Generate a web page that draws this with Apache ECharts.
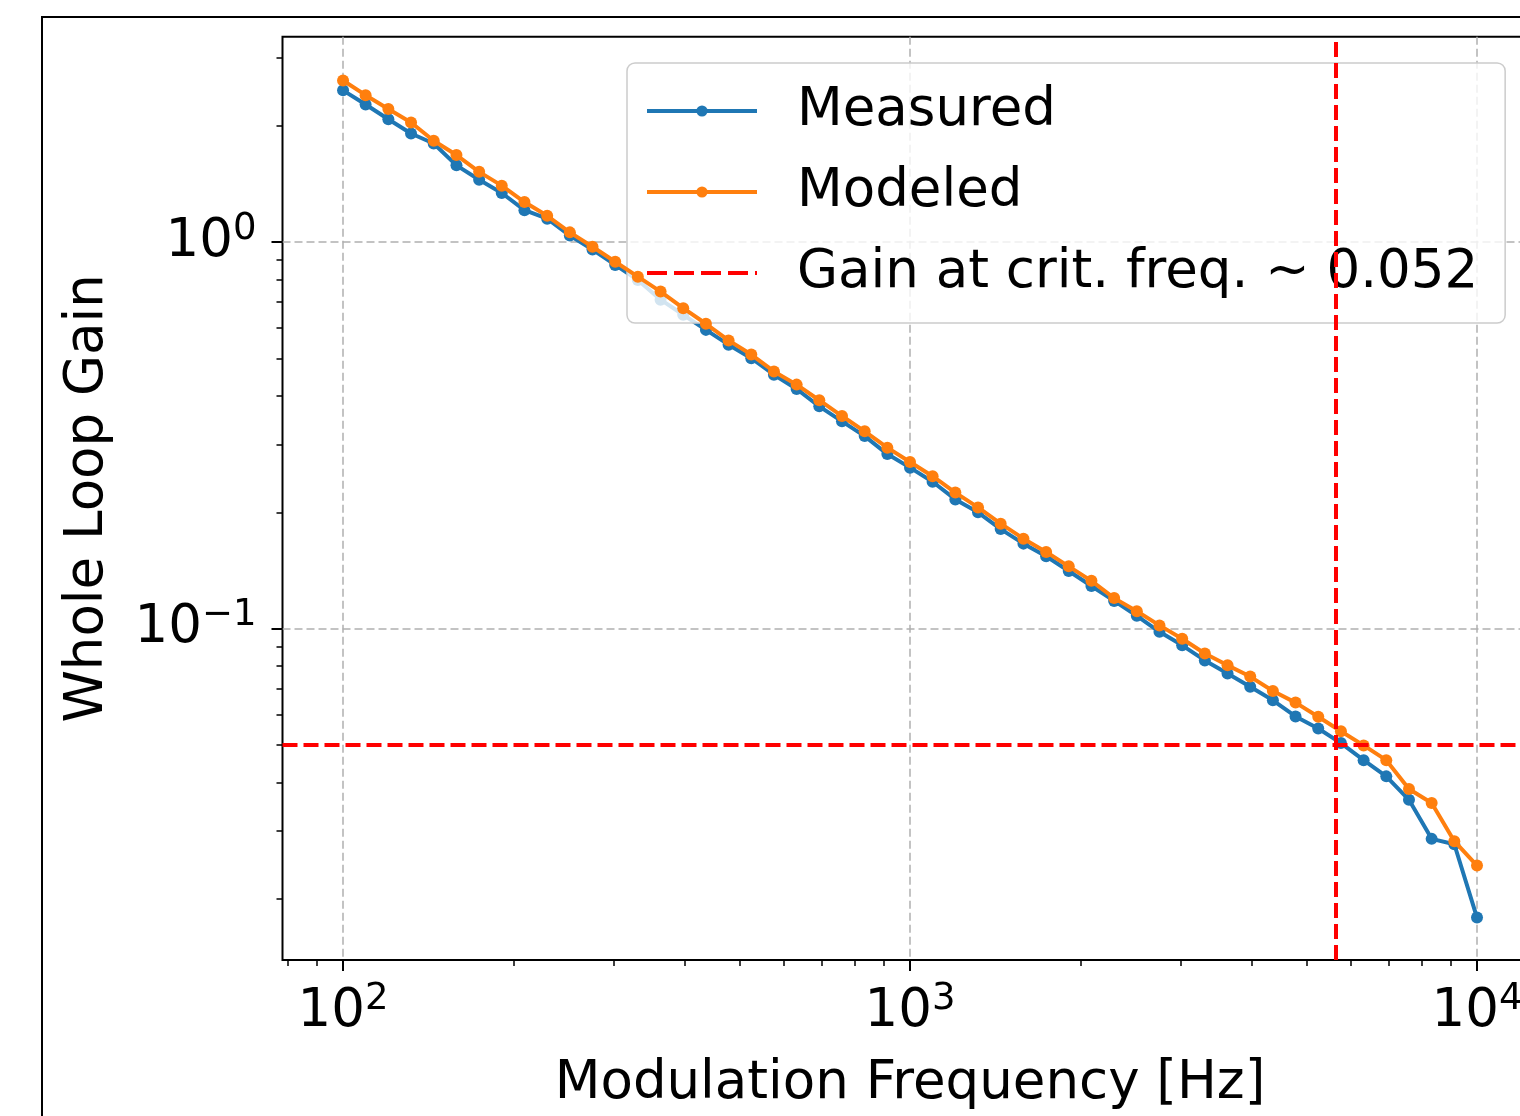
<!DOCTYPE html>
<html>
<head>
<meta charset="utf-8">
<script src="https://cdn.jsdelivr.net/npm/echarts@6/dist/echarts.min.js"></script>
<style>
  html, body { margin: 0; padding: 0; overflow: hidden; background: #ffffff; }
  #chart { width: 1560px; height: 1116px; }
</style>
</head>
<body>
<div id="chart"></div>
<script>
// Modulation frequencies of the sweep [Hz]
const freqHz = [
  100, 109.6, 120.2, 131.8, 144.5, 158.5, 173.8, 190.5, 208.9, 229.1,
  251.2, 275.4, 302.0, 331.1, 363.1, 398.1, 436.5, 478.6, 524.8, 575.4,
  631.0, 691.8, 758.6, 831.8, 912.0, 1000, 1096, 1202, 1318, 1445,
  1585, 1738, 1905, 2089, 2291, 2512, 2754, 3020, 3311, 3631,
  3981, 4365, 4786, 5248, 5754, 6310, 6918, 7586, 8318, 9120, 10000
];

// Whole loop gain, measured
const measuredGain = [
  2.47, 2.27, 2.08, 1.91, 1.80, 1.58, 1.45, 1.34, 1.21, 1.15,
  1.04, 0.957, 0.873, 0.798, 0.71, 0.649, 0.593, 0.543, 0.501, 0.454,
  0.417, 0.376, 0.344, 0.315, 0.283, 0.261, 0.240, 0.216, 0.200, 0.181,
  0.166, 0.154, 0.141, 0.129, 0.118, 0.108, 0.0982, 0.0906, 0.0828, 0.0766,
  0.0708, 0.0653, 0.0593, 0.0552, 0.0506, 0.0457, 0.0415, 0.0361, 0.0286, 0.0277, 0.0179
];

// Whole loop gain, model
const modeledGain = [
  2.62, 2.40, 2.21, 2.04, 1.83, 1.68, 1.52, 1.40, 1.27, 1.17,
  1.06, 0.973, 0.890, 0.814, 0.745, 0.675, 0.615, 0.557, 0.512, 0.463,
  0.428, 0.390, 0.355, 0.324, 0.294, 0.270, 0.248, 0.225, 0.206, 0.187,
  0.171, 0.158, 0.145, 0.133, 0.120, 0.111, 0.102, 0.0942, 0.0863, 0.0804,
  0.0752, 0.0690, 0.0644, 0.0592, 0.0543, 0.0499, 0.0457, 0.0385, 0.0354, 0.0282, 0.0244
];

// Critical frequency and the gain there
const critFreq = 5640;
const critGain = 0.052;

// Tick positions
const xMajorTicks = [100, 1000, 10000];
const yMajorTicks = [0.1, 1];
const xMinorTicks = [80, 90, 200, 300, 400, 500, 600, 700, 800, 900,
                     2000, 3000, 4000, 5000, 6000, 7000, 8000, 9000];
const yMinorTicks = [0.02, 0.03, 0.04, 0.05, 0.06, 0.07, 0.08, 0.09,
                     0.2, 0.3, 0.4, 0.5, 0.6, 0.7, 0.8, 0.9, 2, 3];

const FONT = 'DejaVu Sans';
const BLUE = '#1f77b4';
const ORANGE = '#ff7f0e';
const RED = '#ff0000';
const critLabel = 'Gain at crit. freq. ~ ' + critGain.toFixed(3);

const X_MIN = 78.2, X_MAX = 12790;
const Y_MIN = 0.0139, Y_MAX = 3.40;

// "10^n" labels with a raised exponent
function powLabel(v) {
  const n = Math.round(Math.log10(v));
  return '{b|10}{s|' + (n < 0 ? '\u2212' + (-n) : n) + '}';
}
const powRich = {
  b: { fontFamily: FONT, fontSize: 53, color: '#000' },
  s: { fontFamily: FONT, fontSize: 37, color: '#000', padding: [0, 0, 26, 0] }
};

const gridLine = { show: true, lineStyle: { color: '#b0b0b0', width: 1.5, type: [8, 4] } };
const critLine = { color: RED, width: 4, type: [15, 6] };

const chart = echarts.init(document.getElementById('chart'), null, { renderer: 'canvas' });

chart.setOption({
  animation: false,
  backgroundColor: '#ffffff',
  graphic: [{
    type: 'rect', silent: true, z: -10,
    shape: { x: 42, y: 17, width: 1700, height: 1300 },
    style: { fill: 'none', stroke: '#000', lineWidth: 2 }
  }],
  grid: {
    left: 282.5, top: 36.7, right: 22.4, bottom: 154,
    show: true, borderColor: '#000', borderWidth: 2, backgroundColor: 'transparent'
  },
  legend: {
    orient: 'vertical', left: 627, top: 63,
    padding: [18, 27, 20, 18],
    itemWidth: 110, itemHeight: 14, itemGap: 21,
    backgroundColor: 'rgba(255,255,255,0.8)',
    borderColor: '#cccccc', borderWidth: 1.5, borderRadius: 8,
    selectedMode: false,
    lineStyle: { width: 4 },
    textStyle: { fontFamily: FONT, fontSize: 53, color: '#000', lineHeight: 60, padding: [0, 0, 0, 35] },
    data: [
      'Measured',
      'Modeled',
      { name: critLabel, itemStyle: { opacity: 0 }, lineStyle: { width: 4, type: [20, 7], color: RED } }
    ]
  },
  xAxis: [{
    type: 'log', logBase: 10, min: X_MIN, max: X_MAX, position: 'bottom',
    axisLine: { show: false },
    axisTick: { customValues: xMajorTicks, length: 11, lineStyle: { color: '#000', width: 2 } },
    axisLabel: { customValues: xMajorTicks, formatter: powLabel, rich: powRich, margin: 21 },
    splitLine: gridLine,
    name: 'Modulation Frequency [Hz]', nameLocation: 'middle', nameGap: 98,
    nameTextStyle: { fontFamily: FONT, fontSize: 53, color: '#000' }
  }, {
    type: 'log', logBase: 10, min: X_MIN, max: X_MAX, position: 'bottom',
    axisLine: { show: false },
    axisTick: { customValues: xMinorTicks, length: 6, lineStyle: { color: '#000', width: 1.5 } },
    axisLabel: { show: false },
    splitLine: { show: false }
  }],
  yAxis: [{
    type: 'log', logBase: 10, min: Y_MIN, max: Y_MAX, position: 'left',
    axisLine: { show: false },
    axisTick: { customValues: yMajorTicks, length: 11, lineStyle: { color: '#000', width: 2 } },
    axisLabel: { customValues: yMajorTicks, formatter: powLabel, rich: powRich, margin: 26 },
    splitLine: gridLine,
    name: 'Whole Loop Gain', nameLocation: 'middle', nameGap: 168, nameRotate: 90,
    nameTextStyle: { fontFamily: FONT, fontSize: 53, color: '#000' }
  }, {
    type: 'log', logBase: 10, min: Y_MIN, max: Y_MAX, position: 'left',
    axisLine: { show: false },
    axisTick: { customValues: yMinorTicks, length: 6, lineStyle: { color: '#000', width: 1.5 } },
    axisLabel: { show: false },
    splitLine: { show: false }
  }],
  series: [{
    name: 'Measured', type: 'line', xAxisIndex: 0, yAxisIndex: 0,
    data: freqHz.map((f, i) => [f, measuredGain[i]]),
    symbol: 'circle', symbolSize: 12, showAllSymbol: true,
    color: BLUE, lineStyle: { color: BLUE, width: 4 }, itemStyle: { color: BLUE },
    z: 3
  }, {
    name: 'Modeled', type: 'line', xAxisIndex: 0, yAxisIndex: 0,
    data: freqHz.map((f, i) => [f, modeledGain[i]]),
    symbol: 'circle', symbolSize: 12, showAllSymbol: true,
    color: ORANGE, lineStyle: { color: ORANGE, width: 4 }, itemStyle: { color: ORANGE },
    z: 4
  }, {
    name: critLabel, type: 'line', xAxisIndex: 0, yAxisIndex: 0,
    data: [], symbol: 'none',
    color: RED, lineStyle: critLine, itemStyle: { color: RED },
    z: 5,
    markLine: {
      silent: true, symbol: 'none', label: { show: false },
      lineStyle: critLine,
      emphasis: { disabled: true },
      data: [{ yAxis: critGain }, { xAxis: critFreq }]
    }
  }]
});
</script>
</body>
</html>
